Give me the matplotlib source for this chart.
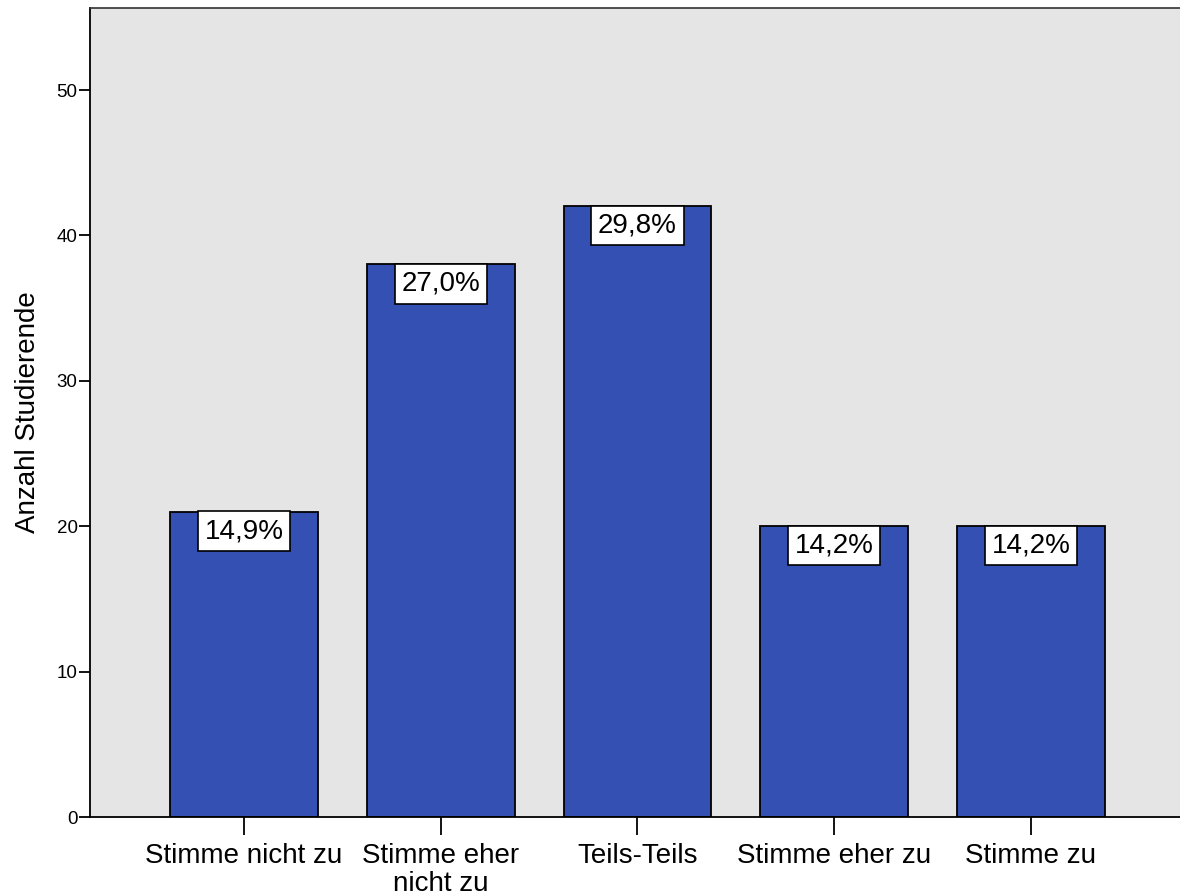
import matplotlib
matplotlib.use("Agg")
import matplotlib.pyplot as plt

plt.rcParams['font.family'] = ['Liberation Sans', 'DejaVu Sans']

# data
categories = ["Stimme nicht zu", "Stimme eher\nnicht zu", "Teils-Teils",
              "Stimme eher zu", "Stimme zu"]
counts = [21, 38, 42, 20, 20]
percent_labels = ["14,9%", "27,0%", "29,8%", "14,2%", "14,2%"]

bar_color = "#3550B3"
bg_color = "#E5E5E5"

fig = plt.figure(figsize=(11.8, 8.92), dpi=100)
ax = fig.add_axes([90 / 1180, 75 / 892, 1 - 90 / 1180, 809 / 892])
ax.set_facecolor(bg_color)

x = list(range(len(categories)))
ax.bar(x, counts, width=0.75, color=bar_color, edgecolor="black", linewidth=1.3, zorder=2)

for xi, c, lab in zip(x, counts, percent_labels):
    ax.annotate(lab, (xi, c), xytext=(0, -4.6), textcoords="offset points",
                ha="center", va="top", fontsize=20, zorder=3,
                bbox=dict(boxstyle="square,pad=0.24", fc="white", ec="black", lw=1.2))

ax.set_xlim(-0.783, 4.758)
ax.set_ylim(0, 55.64)
ax.set_yticks([0, 10, 20, 30, 40, 50])
ax.set_xticks(x)
ax.set_xticklabels(categories, fontsize=20, linespacing=1.08)
ax.tick_params(axis="y", labelsize=13.5, length=8, width=1.3, pad=1)
ax.tick_params(axis="x", length=13, width=1.3, pad=6)

ax.set_ylabel("Anzahl Studierende", fontsize=20, labelpad=11)

ax.spines["right"].set_visible(False)
ax.spines["top"].set_color("#333333")
ax.spines["top"].set_linewidth(1.2)
ax.spines["left"].set_linewidth(1.3)
ax.spines["bottom"].set_linewidth(1.3)

fig.savefig("out.png", dpi=100)
